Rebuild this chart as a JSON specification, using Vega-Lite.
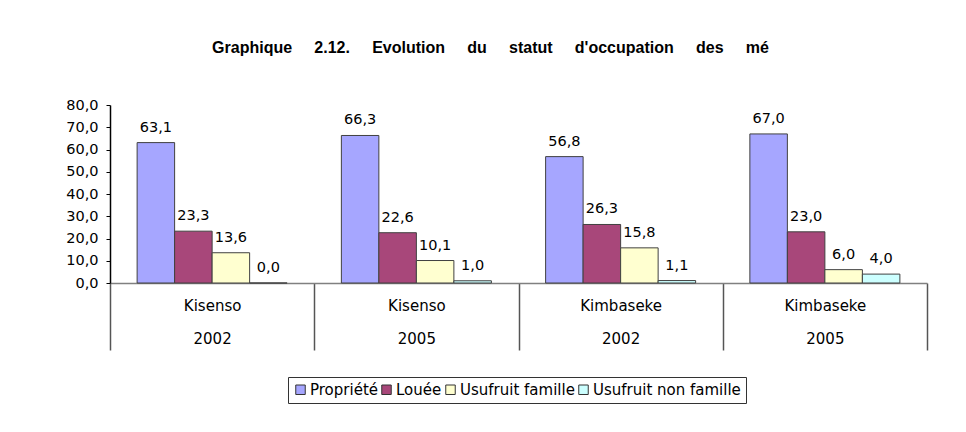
{
  "$schema": "https://vega.github.io/schema/vega-lite/v6.json",
  "width": 817,
  "height": 178,
  "autosize": "none",
  "padding": {"left": 110, "top": 105, "right": 39, "bottom": 149},
  "background": "white",
  "title": {
    "text": "Graphique\u00a0\u00a0\u00a0\u00a0 2.12.\u00a0\u00a0\u00a0\u00a0 Evolution\u00a0\u00a0\u00a0\u00a0 du\u00a0\u00a0\u00a0\u00a0 statut\u00a0\u00a0\u00a0\u00a0 d'occupation\u00a0\u00a0\u00a0\u00a0 des\u00a0\u00a0\u00a0\u00a0 mé",
    "font": "Liberation Sans",
    "fontSize": 16,
    "fontWeight": "bold",
    "color": "#000",
    "anchor": "middle",
    "dx": -28,
    "offset": 41
  },
  "data": {
    "values": [
      {"groupe": "Kisenso|2002", "statut": "Propriété", "valeur": 63.1},
      {"groupe": "Kisenso|2002", "statut": "Louée", "valeur": 23.3},
      {"groupe": "Kisenso|2002", "statut": "Usufruit famille", "valeur": 13.6},
      {"groupe": "Kisenso|2002", "statut": "Usufruit non famille", "valeur": 0.0},
      {"groupe": "Kisenso|2005", "statut": "Propriété", "valeur": 66.3},
      {"groupe": "Kisenso|2005", "statut": "Louée", "valeur": 22.6},
      {"groupe": "Kisenso|2005", "statut": "Usufruit famille", "valeur": 10.1},
      {"groupe": "Kisenso|2005", "statut": "Usufruit non famille", "valeur": 1.0},
      {"groupe": "Kimbaseke|2002", "statut": "Propriété", "valeur": 56.8},
      {"groupe": "Kimbaseke|2002", "statut": "Louée", "valeur": 26.3},
      {"groupe": "Kimbaseke|2002", "statut": "Usufruit famille", "valeur": 15.8},
      {"groupe": "Kimbaseke|2002", "statut": "Usufruit non famille", "valeur": 1.1},
      {"groupe": "Kimbaseke|2005", "statut": "Propriété", "valeur": 67.0},
      {"groupe": "Kimbaseke|2005", "statut": "Louée", "valeur": 23.0},
      {"groupe": "Kimbaseke|2005", "statut": "Usufruit famille", "valeur": 6.0},
      {"groupe": "Kimbaseke|2005", "statut": "Usufruit non famille", "valeur": 4.0}
    ]
  },
  "encoding": {
    "x": {
      "field": "groupe",
      "type": "nominal",
      "sort": ["Kisenso|2002", "Kisenso|2005", "Kimbaseke|2002", "Kimbaseke|2005"],
      "scale": {"paddingInner": 0, "paddingOuter": 0},
      "axis": {
        "title": null,
        "labelAngle": 0,
        "labelExpr": "split(datum.label, '|')",
        "tickBand": "extent",
        "tickSize": 67,
        "tickColor": "#555555",
        "tickWidth": 1.5,
        "domainColor": "#808080",
        "domainWidth": 1.5,
        "labelPadding": -52,
        "labelBaseline": "top",
        "labelFont": "DejaVu Sans",
        "labelFontSize": 15,
        "labelLineHeight": 33,
        "labelColor": "#000"
      }
    },
    "xOffset": {
      "field": "statut",
      "type": "nominal",
      "sort": ["Propriété", "Louée", "Usufruit famille", "Usufruit non famille"],
      "scale": {"paddingInner": 0, "paddingOuter": 0.723}
    },
    "y": {
      "field": "valeur",
      "type": "quantitative",
      "scale": {"domain": [0, 80], "nice": false, "zero": true},
      "axis": {
        "title": null,
        "values": [0, 10, 20, 30, 40, 50, 60, 70, 80],
        "format": ".1f",
        "grid": false,
        "domainColor": "#000",
        "domainWidth": 1.5,
        "tickColor": "#000",
        "tickSize": 4,
        "labelPadding": 8,
        "labelFont": "DejaVu Sans",
        "labelFontSize": 14.5,
        "labelColor": "#000"
      }
    }
  },
  "layer": [
    {
      "mark": {"type": "bar", "stroke": "#404040", "strokeWidth": 1},
      "encoding": {
        "color": {
          "field": "statut",
          "type": "nominal",
          "sort": ["Propriété", "Louée", "Usufruit famille", "Usufruit non famille"],
          "scale": {"range": ["#A6A6FF", "#A8477A", "#FFFFD0", "#CCFFFF"]},
          "legend": {
            "title": null,
            "orient": "none",
            "direction": "horizontal",
            "legendX": 178,
            "legendY": 272,
            "strokeColor": "#333333",
            "padding": 5,
            "symbolType": "square",
            "symbolSize": 90,
            "symbolStrokeColor": "#333333",
            "symbolStrokeWidth": 1,
            "symbolOpacity": 1,
            "labelFont": "DejaVu Sans",
            "labelFontSize": 15,
            "labelColor": "#000",
            "labelOffset": 2,
            "columnPadding": 1,
            "labelLimit": 200
          }
        }
      }
    },
    {
      "mark": {"type": "text", "baseline": "bottom", "dy": -8, "font": "DejaVu Sans", "fontSize": 14.5, "color": "#000"},
      "encoding": {
        "text": {"field": "valeur", "type": "quantitative", "format": ".1f"}
      }
    }
  ],
  "config": {
    "view": {"stroke": null},
    "locale": {"number": {"decimal": ",", "thousands": " ", "grouping": [3], "currency": ["", " €"]}}
  }
}
